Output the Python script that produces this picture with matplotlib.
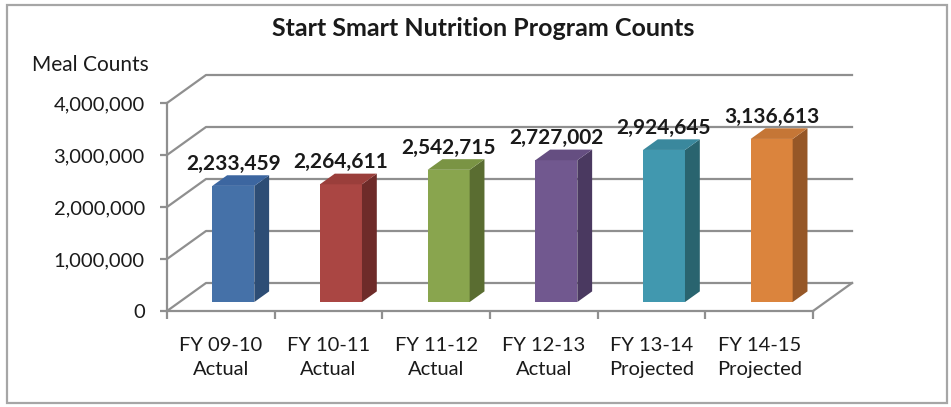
import matplotlib.pyplot as plt
import matplotlib.ticker as mticker
from matplotlib.patches import Polygon, Rectangle

categories = ['FY 09-10\nActual', 'FY 10-11\nActual', 'FY 11-12\nActual',
              'FY 12-13\nActual', 'FY 13-14\nProjected', 'FY 14-15\nProjected']
counts = [2233459, 2264611, 2542715, 2727002, 2924645, 3136613]
y_ticks = [0, 1000000, 2000000, 3000000, 4000000]

front_colors = ['#4571A8', '#AA4643', '#89A54E', '#71588F', '#4198AF', '#DB843D']
side_colors = ['#2D4D75', '#6E2B29', '#5A6D31', '#4A3960', '#29646F', '#965727']
top_colors = ['#3C66A0', '#9A3E3B', '#7A9444', '#654E81', '#3A889D', '#C57636']

plt.rcParams['font.family'] = ['Lato', 'DejaVu Sans']

W, H = 951, 407
fig = plt.figure(figsize=(W / 100, H / 100), dpi=100)

# axes placed in pixel terms: front floor edge at y=311, left wall at x=167
cat_px = 107.67
px_per_m = 52.0
ax_left, ax_right = 167, 852
ax_bottom, ax_top = 311, 72
ax = fig.add_axes([ax_left / W, (H - ax_bottom) / H,
                   (ax_right - ax_left) / W, (ax_bottom - ax_top) / H])
ax.set_xlim(-0.5, -0.5 + (ax_right - ax_left) / cat_px)
ax.set_ylim(0, (ax_bottom - ax_top) / px_per_m * 1e6)

# oblique depth offset (data units)
ddx = 39 / cat_px
ddy = 28 / px_per_m * 1e6
d0, d1 = 0.32, 0.70
grid_c = '#8F8F8F'
n = len(counts)

# side wall + back wall gridlines
for v in y_ticks:
    ax.plot([-0.5, -0.5 + ddx, n - 0.5 + ddx], [v, v + ddy, v + ddy],
            color=grid_c, lw=1.6, zorder=1, clip_on=False)
# floor right edge
ax.plot([n - 0.5, n - 0.5 + ddx], [0, ddy], color=grid_c, lw=1.6, zorder=1, clip_on=False)

# bars: front face through ax.bar, side and top faces from the same values
w = 0.39
xs = [i + d0 * ddx for i in range(n)]
base = d0 * ddy
ax.bar(xs, counts, width=w, bottom=base, color=front_colors, zorder=3)
dep_x = (d1 - d0) * ddx
dep_y = (d1 - d0) * ddy
for x, v, sc, tc in zip(xs, counts, side_colors, top_colors):
    xl, xr = x - w / 2, x + w / 2
    top = base + v
    ax.add_patch(Polygon([(xr, base), (xr + dep_x, base + dep_y),
                          (xr + dep_x, top + dep_y), (xr, top)],
                         closed=True, facecolor=sc, edgecolor='none', zorder=3))
    ax.add_patch(Polygon([(xl, top), (xl + dep_x, top + dep_y),
                          (xr + dep_x, top + dep_y), (xr, top)],
                         closed=True, facecolor=tc, edgecolor='none', zorder=3))
    ax.annotate(f'{v:,}', (x, top), xytext=(0, 16), textcoords='offset points',
                ha='center', va='center', fontsize=15, fontweight='bold',
                color='#1a1a1a', zorder=5)

# axes
for s in ['top', 'right']:
    ax.spines[s].set_visible(False)
for s in ['left', 'bottom']:
    ax.spines[s].set_color(grid_c)
    ax.spines[s].set_linewidth(1.6)
    ax.spines[s].set_zorder(4)
ax.spines['left'].set_bounds(0, 4000000)
ax.spines['bottom'].set_bounds(-0.5, n - 0.5)

ax.set_yticks(y_ticks)
ax.yaxis.set_major_formatter(mticker.FuncFormatter(lambda v, p: f'{v:,.0f}'))
ax.tick_params(axis='y', direction='out', length=5, width=1.6, color=grid_c,
               pad=11, labelsize=14.5, labelcolor='#1a1a1a')

ax.set_xticks(range(n))
ax.set_xticklabels(categories, linespacing=1.5)
ax.set_xticks([i - 0.5 for i in range(n + 1)], minor=True)
ax.tick_params(axis='x', which='major', length=0, pad=19, labelsize=14.5, labelcolor='#1a1a1a')
ax.tick_params(axis='x', which='minor', direction='out', length=6, width=1.6, color=grid_c)
ax.patch.set_visible(False)

fig.text(483 / W, 1 - 28 / H, 'Start Smart Nutrition Program Counts', ha='center', va='center',
         fontsize=18, fontweight='bold', color='#1a1a1a')
fig.text(32 / W, 1 - 65 / H, 'Meal Counts', ha='left', va='center', fontsize=15, color='#1a1a1a')

fig.patches.append(Rectangle((7 / W, 1 - 403 / H), 940 / W, 398 / H, transform=fig.transFigure,
                             fill=False, edgecolor='#A6A6A6', lw=1.6))

fig.savefig('out.png', dpi=100)
